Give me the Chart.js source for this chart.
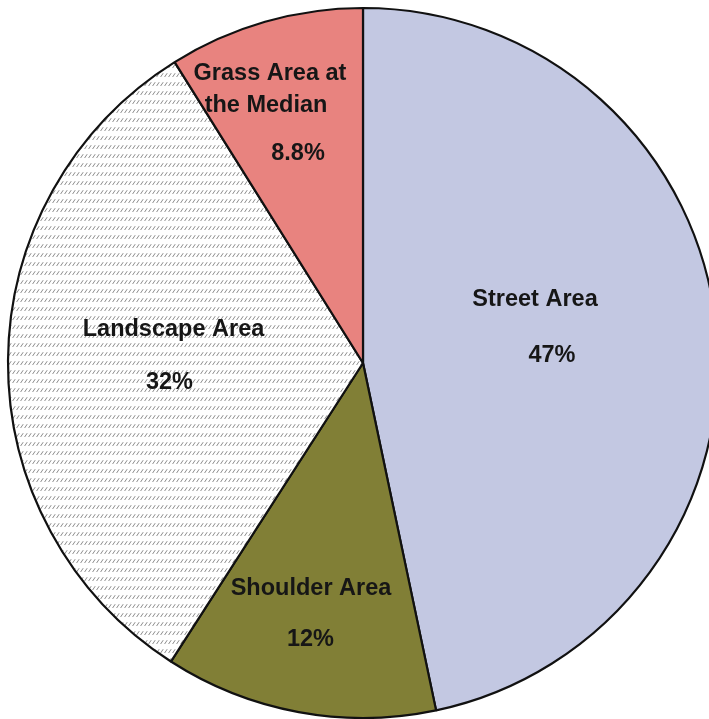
<!DOCTYPE html>
<html>
<head>
<meta charset="utf-8">
<script src="https://cdn.jsdelivr.net/npm/chart.js@4/dist/chart.umd.min.js"></script>
<style>
  body { margin: 0; background: #fff; overflow: hidden; }
  #wrap { position: absolute; left: 0; top: 0; width: 726px; height: 726px; }
</style>
</head>
<body>
<div id="wrap"><canvas id="pieChart" width="726" height="726"></canvas></div>
<script>
// data, clockwise from 12 o'clock (slice sizes)
const categories = ['Street Area', 'Shoulder Area', 'Landscape Area', 'Grass Area at the Median'];
const shares = [46.7, 12.4, 32.0, 8.9];
const pctLabels = ['47%', '12%', '32%', '8.8%'];
// how each name wraps on the slice
const nameLines = [['Street Area'], ['Shoulder Area'], ['Landscape Area'], ['Grass Area at', 'the Median']];

// label anchors, px from the pie centre: [name line centres..., percent centre]
const labelSpots = [
  [[172, -65.5], [189, -9]],
  [[-52, 224], [-52.5, 275]],
  [[-189.5, -35.5], [-193.5, 18]],
  [[-93, -291], [-97, -259.5], [-65, -211]]
];

function makeHatch() {
  const c = document.createElement('canvas');
  c.width = 4;
  c.height = 9;
  const g = c.getContext('2d');
  g.fillStyle = '#ffffff';
  g.fillRect(0, 0, 4, 9);
  g.strokeStyle = 'rgba(120,120,120,0.85)';
  g.lineWidth = 1;
  g.beginPath();
  g.moveTo(0.6, 5);
  g.lineTo(3.2, 1.2);
  g.stroke();
  return g.createPattern(c, 'repeat');
}

const sliceLabels = {
  id: 'sliceLabels',
  afterDatasetsDraw(chart) {
    const ctx = chart.ctx;
    const arcs = chart.getDatasetMeta(0).data;
    ctx.save();
    ctx.font = 'bold 23.5px "Liberation Sans", Arial, sans-serif';
    ctx.fillStyle = '#161616';
    ctx.textAlign = 'center';
    ctx.textBaseline = 'alphabetic';
    arcs.forEach((arc, i) => {
      const texts = nameLines[i].concat([pctLabels[i]]);
      texts.forEach((t, j) => {
        const p = labelSpots[i][j];
        // spots are cap-height middles, shift to baseline
        ctx.fillText(t, arc.x + p[0], arc.y + p[1] + 8.4);
      });
    });
    ctx.restore();
  }
};

new Chart(document.getElementById('pieChart').getContext('2d'), {
  type: 'pie',
  data: {
    labels: categories,
    datasets: [{
      data: shares,
      backgroundColor: ['#c3c8e2', '#817f36', makeHatch(), '#e8837f'],
      borderColor: '#111111',
      borderWidth: 2.2
    }]
  },
  options: {
    responsive: false,
    animation: false,
    radius: 355,
    layout: { padding: 0 },
    plugins: {
      legend: { display: false },
      tooltip: { enabled: false }
    }
  },
  plugins: [sliceLabels]
});
</script>
</body>
</html>
